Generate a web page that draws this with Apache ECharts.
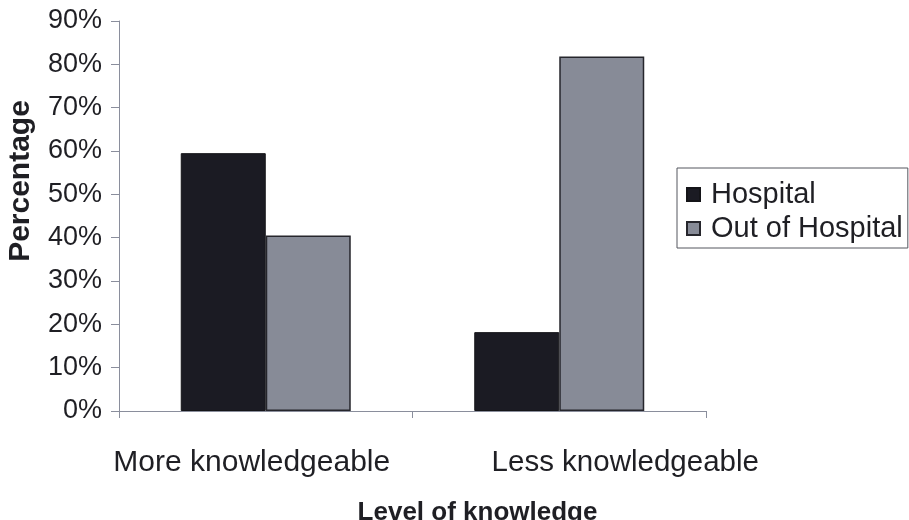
<!DOCTYPE html>
<html>
<head>
<meta charset="utf-8">
<script src="https://cdn.jsdelivr.net/npm/echarts@6/dist/echarts.min.js"></script>
<style>
  html, body { margin: 0; padding: 0; background: #fff; }
  #chart { width: 909px; height: 520px; }
</style>
</head>
<body>
<div id="chart"></div>
<script>
// ========== data ==========
const categories = ['More knowledgeable', 'Less knowledgeable'];
const hospital = [59.5, 18.2];
const outOfHospital = [40.5, 81.8];
const yTicks = [0, 10, 20, 30, 40, 50, 60, 70, 80, 90];

const FONT = '"Liberation Sans", Arial, sans-serif';
const TEXT = '#1f1f24';
const AXIS = '#8a8e9c';

const chart = echarts.init(document.getElementById('chart'));

const option = {
    backgroundColor: '#fff',
    animation: false,
    textStyle: { fontFamily: FONT, color: TEXT },
    grid: { left: 119, right: 203, top: 21, bottom: 109, outerBoundsMode: 'none', containLabel: false },
    legend: {
        orient: 'vertical',
        left: 677,
        top: 168,
        padding: [12, 5, 5, 9],
        itemGap: 5,
        itemWidth: 13,
        itemHeight: 13,
        icon: 'rect',
        borderColor: '#55575f',
        borderWidth: 1,
        textStyle: { fontSize: 29, color: TEXT, fontFamily: FONT, lineHeight: 29, padding: [0, 0, 0, 6] },
        data: ['Hospital', 'Out of Hospital']
    },
    xAxis: {
        type: 'category',
        data: categories,
        name: 'Level of knowledge',
        nameLocation: 'middle',
        nameGap: 89,
        nameTextStyle: { fontSize: 26, fontWeight: 'bold', color: TEXT, fontFamily: FONT, padding: [0, 0, 0, 130] },
        axisLine: { lineStyle: { color: AXIS, width: 1 } },
        axisTick: { show: true, length: 7, lineStyle: { color: AXIS } },
        axisLabel: {
            interval: 0,
            hideOverlap: false,
            margin: 37,
            fontSize: 30,
            color: TEXT,
            fontFamily: FONT,
            formatter: function (v, i) { return i === 0 ? '{a|' + v + '}' : '{b|' + v + '}'; },
            rich: {
                a: { fontSize: 30, color: TEXT, fontFamily: FONT, padding: [0, 28, 0, 0] },
                b: { fontSize: 29.5, color: TEXT, fontFamily: FONT, padding: [0, 0, 0, 132] }
            }
        }
    },
    yAxis: {
        type: 'value',
        min: 0,
        max: 90,
        interval: 10,
        name: 'Percentage',
        nameLocation: 'middle',
        nameGap: 83,
        nameTextStyle: { fontSize: 30, fontWeight: 'bold', color: TEXT, fontFamily: FONT, padding: [0, 0, 0, 70] },
        axisLine: { show: true, lineStyle: { color: AXIS, width: 1 } },
        axisTick: { show: true, length: 8, lineStyle: { color: AXIS } },
        splitLine: { show: false },
        axisLabel: {
            margin: 17,
            fontSize: 27,
            color: TEXT,
            fontFamily: FONT,
            customValues: yTicks,
            formatter: '{value}%'
        }
    },
    series: [
        {
            name: 'Hospital',
            type: 'bar',
            data: hospital,
            barWidth: 85,
            barGap: '0%',
            itemStyle: { color: '#1b1b23', borderColor: '#141418', borderWidth: 1 }
        },
        {
            name: 'Out of Hospital',
            type: 'bar',
            data: outOfHospital,
            barWidth: 85,
            itemStyle: { color: '#878b97', borderColor: '#26262c', borderWidth: 1.5 }
        }
    ]
};

chart.setOption(option);
</script>
</body>
</html>
